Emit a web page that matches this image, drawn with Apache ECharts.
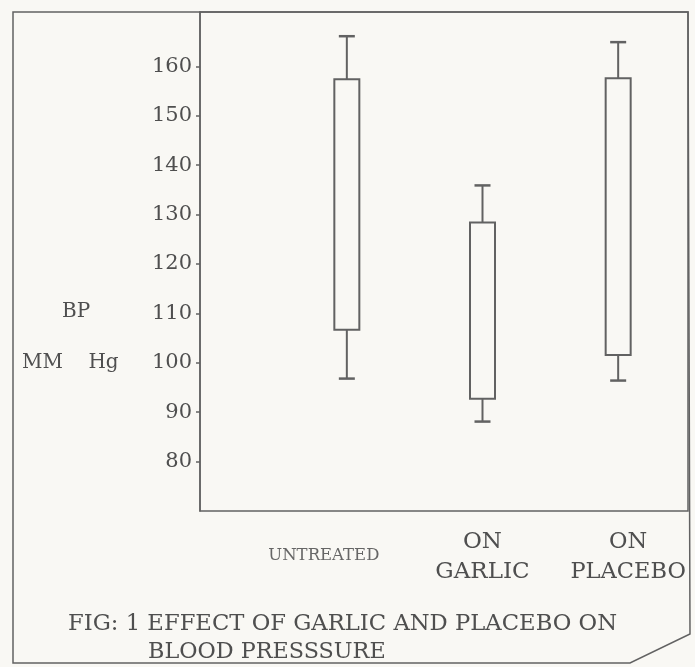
<!DOCTYPE html>
<html>
<head>
<meta charset="utf-8">
<script src="https://cdn.jsdelivr.net/npm/echarts@6/dist/echarts.min.js"></script>
<style>
  html, body { margin: 0; padding: 0; background: #f9f8f4; }
  #chart { width: 695px; height: 667px; }
</style>
</head>
<body>
<div id="chart"></div>
<script>
// ---- data ----
const categories = ['UNTREATED', 'ON\nGARLIC', 'ON\nPLACEBO'];
const whiskerLow  = [96.8, 88.1, 96.4];
const boxLow      = [106.7, 92.7, 101.6];
const boxHigh     = [157.4, 128.4, 157.6];
const whiskerHigh = [166.1, 135.9, 164.9];
const yTicks = [80, 90, 100, 110, 120, 130, 140, 150, 160];
const titleLine1 = 'FIG: 1 EFFECT OF GARLIC AND PLACEBO ON';
const titleLine2 = 'BLOOD PRESSSURE';
const yName1 = 'BP';
const yName2 = 'MM    Hg';

// ---- styles ----
const ink = '#4f4f4f';
const lineCol = '#626262';
const serif = '"DejaVu Serif", "Liberation Serif", serif';

const seriesData = categories.map((c, i) => [i, whiskerLow[i], boxLow[i], boxHigh[i], whiskerHigh[i]]);

function renderItem(params, api) {
  const i = api.value(0);
  const pLo = api.coord([i, api.value(1)]);
  const pQ1 = api.coord([i, api.value(2)]);
  const pQ3 = api.coord([i, api.value(3)]);
  const pHi = api.coord([i, api.value(4)]);
  const x = pLo[0];
  const bw = 25, cw = 16;
  const st = { stroke: lineCol, lineWidth: 2, fill: null };
  return {
    type: 'group',
    children: [
      { type: 'rect', shape: { x: x - bw / 2, y: pQ3[1], width: bw, height: pQ1[1] - pQ3[1] }, style: { stroke: lineCol, lineWidth: 2, fill: 'rgba(0,0,0,0)' } },
      { type: 'line', shape: { x1: x, y1: pHi[1], x2: x, y2: pQ3[1] }, style: st },
      { type: 'line', shape: { x1: x - cw / 2, y1: pHi[1], x2: x + cw / 2, y2: pHi[1] }, style: { stroke: lineCol, lineWidth: 2.5 } },
      { type: 'line', shape: { x1: x, y1: pQ1[1], x2: x, y2: pLo[1] }, style: st },
      { type: 'line', shape: { x1: x - cw / 2, y1: pLo[1], x2: x + cw / 2, y2: pLo[1] }, style: { stroke: lineCol, lineWidth: 2.5 } }
    ]
  };
}

const chart = echarts.init(document.getElementById('chart'), null, { renderer: 'canvas' });

chart.setOption({
  backgroundColor: '#f9f8f4',
  animation: false,
  title: [
    { text: titleLine1, left: 63, top: 608, textStyle: { fontFamily: serif, fontSize: 22.7, fontWeight: 'normal', color: ink } },
    { text: titleLine2, left: 143, top: 636, textStyle: { fontFamily: serif, fontSize: 22.3, fontWeight: 'normal', color: ink } }
  ],
  graphic: [
    { type: 'polygon', shape: { points: [[13, 12], [13, 663], [630, 663], [690, 634], [688, 12]] },
      style: { fill: 'rgba(0,0,0,0)', stroke: lineCol, lineWidth: 1.5 }, silent: true },
    { type: 'text', left: 62, top: 302, style: { text: yName1, fontFamily: serif, fontSize: 20, fill: ink } },
    { type: 'text', left: 22, top: 353, style: { text: yName2, fontFamily: serif, fontSize: 20, fill: ink } }
  ],
  grid: [
    { left: 200, right: 7, top: 12, bottom: 156, show: true, borderColor: lineCol, borderWidth: 1.5, backgroundColor: 'rgba(0,0,0,0)' },
    { left: 279, right: 9, top: 12, bottom: 156 }
  ],
  xAxis: [
    { gridIndex: 0, type: 'value', min: 0, max: 1, show: false },
    {
      gridIndex: 1, type: 'category', data: categories, boundaryGap: true,
      axisLine: { show: false }, axisTick: { show: false }, splitLine: { show: false },
      axisLabel: {
        margin: 16, interval: 0,
        formatter: function (v, idx) {
          const parts = v.split('\n');
          const key = ['u', 'g', 'p'][idx];
          return parts.map(p => '{' + key + '|' + p + '}').join('\n');
        },
        rich: {
          u: { fontFamily: serif, fontSize: 16.5, color: '#666', lineHeight: 30, padding: [28, 46, 0, 0] },
          g: { fontFamily: serif, fontSize: 23, color: ink, lineHeight: 30 },
          p: { fontFamily: serif, fontSize: 22.5, color: ink, lineHeight: 30, padding: [0, 0, 0, 20] }
        }
      }
    }
  ],
  yAxis: [
    {
      gridIndex: 0, type: 'value', min: 70, max: 171, interval: 10,
      axisLine: { show: true, lineStyle: { color: lineCol, width: 1.5 } },
      axisTick: { show: true, length: 4, customValues: yTicks, lineStyle: { color: lineCol, width: 1.5 } },
      splitLine: { show: false },
      axisLabel: {
        customValues: yTicks, margin: 8,
        formatter: function (v) { return (v < 80 || v > 160) ? '' : String(v); },
        fontFamily: serif, fontSize: 21, color: ink
      }
    },
    { gridIndex: 1, type: 'value', min: 70, max: 171, show: false }
  ],
  series: [
    {
      type: 'custom', xAxisIndex: 1, yAxisIndex: 1,
      renderItem: renderItem,
      encode: { x: 0, y: [1, 2, 3, 4] },
      data: seriesData,
      silent: true
    }
  ]
});
</script>
</body>
</html>
